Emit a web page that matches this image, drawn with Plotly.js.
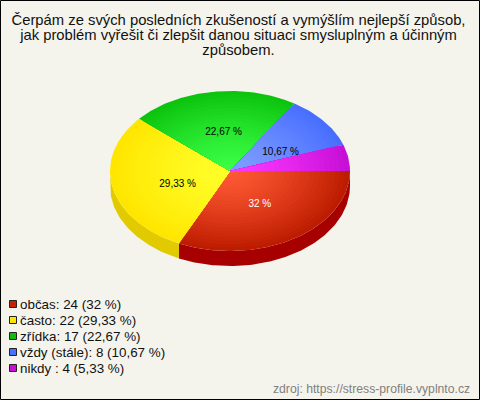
<!DOCTYPE html>
<html>
<head>
<meta charset="utf-8">
<script src="https://cdn.plot.ly/plotly-3.0.1.min.js"></script>
<style>html,body{margin:0;padding:0;background:#f5f4ec}#c{width:480px;height:400px}</style>
</head>
<body>
<div id="c"></div>
<script>
const titleText = 'Čerpám ze svých posledních zkušeností a vymýšlím nejlepší způsob,<br>jak problém vyřešit či zlepšit danou situaci smysluplným a účinným<br>způsobem.';
const categories = ['občas', 'často', 'zřídka', 'vždy (stále)', 'nikdy '];
const counts = [24, 22, 17, 8, 4];
const percentLabels = ['32 %', '29,33 %', '22,67 %', '10,67 %', '5,33 %'];
const showSliceLabel = [true, true, true, true, false];
const labelColors = ['#ffffff', '#000000', '#000000', '#000000', '#000000'];
const innerColors = [[255, 90, 53], [255, 255, 42], [60, 255, 70], [127, 159, 255], [255, 56, 255]];
const outerColors = [[190, 28, 0], [255, 230, 0], [12, 196, 14], [72, 110, 255], [198, 16, 214]];
const sideColors = ['#a60000', '#e2ca00', '#0a9a0a', '#3050c0', '#9a10a8'];
const swatchColors = ['#c42200', '#ffe600', '#10bb10', '#4a70ff', '#c810d8'];
const sourceText = 'zdroj: https://stress-profile.vyplnto.cz';

const W = 480, H = 400, cx = 230, cy = 171, rx = 120, ry = 80, depth = 15 / 80;
const LAYERS = 24;
const total = counts.reduce((a, b) => a + b, 0);
const rad = d => d * Math.PI / 180;

function arc(a0, a1, r, dy) {
  const xs = [], ys = [];
  const n = Math.max(2, Math.ceil((a1 - a0)));
  for (let i = 0; i <= n; i++) {
    const a = rad(a0 + (a1 - a0) * i / n);
    xs.push(r * Math.cos(a));
    ys.push(-r * Math.sin(a) - dy);
  }
  return [xs, ys];
}
const poly = (x, y, color) => ({
  type: 'scatter', mode: 'lines', x, y, fill: 'toself', fillcolor: color,
  line: {width: 0}, hoverinfo: 'skip', showlegend: false
});

const traces = [];
let start = 0;
const spans = counts.map(c => { const s = [start, start + c / total * 360]; start = s[1]; return s; });

// side wall (front half of the disc)
spans.forEach((s, i) => {
  const a0 = s[0], a1 = Math.min(s[1], 180);
  if (a0 >= 180) return;
  const [tx, ty] = arc(a0, a1, 1, 0);
  const [bx, by] = arc(a0, a1, 1, depth);
  traces.push(poly(tx.concat(bx.reverse()), ty.concat(by.reverse()), sideColors[i]));
});
// top face: radial shading built from nested wedges
spans.forEach((s, i) => {
  for (let k = 0; k < LAYERS; k++) {
    const r = 1 - k / LAYERS, t = Math.pow(r, 1.3);
    const c = innerColors[i].map((v, j) => Math.round(v + (outerColors[i][j] - v) * t));
    const [ax, ay] = arc(s[0], s[1], r, 0);
    traces.push(poly([0].concat(ax, 0), [0].concat(ay, 0), `rgb(${c.join(',')})`));
  }
});
// slice labels: on the slice bisector, with small pixel nudges
const labelR = 0.48;
const labelNudgePx = [[-1, 1], [4, 5.5], [2, -0.5], [5.5, 5], [0, 0]];
spans.forEach((s, i) => {
  if (!showSliceLabel[i]) return;
  const m = rad((s[0] + s[1]) / 2);
  traces.push({
    type: 'scatter', mode: 'text',
    x: [labelR * Math.cos(m) + labelNudgePx[i][0] / rx],
    y: [-labelR * Math.sin(m) - labelNudgePx[i][1] / ry],
    text: [percentLabels[i]], textposition: 'middle center',
    textfont: {family: 'Liberation Sans, Arial, sans-serif', size: 10, color: labelColors[i]},
    hoverinfo: 'skip', showlegend: false, cliponaxis: false
  });
});

const annotations = [], shapes = [];
const LEG_Y0 = 304, LEG_STEP = 16;
categories.forEach((c, i) => {
  const y = LEG_Y0 + i * LEG_STEP;
  shapes.push({type: 'rect', xref: 'paper', yref: 'paper',
    x0: 9.5 / W, x1: 16.5 / W, y0: 1 - (y + 3.5) / H, y1: 1 - (y - 3.5) / H,
    fillcolor: swatchColors[i], line: {color: '#222222', width: 1}});
  annotations.push({xref: 'paper', yref: 'paper', x: 20 / W, y: 1 - y / H,
    xanchor: 'left', yanchor: 'middle', showarrow: false, align: 'left',
    borderpad: 0, borderwidth: 0,
    text: `${c}: ${counts[i]} (${percentLabels[i]})`,
    font: {family: 'Liberation Sans, Arial, sans-serif', size: 13.4, color: '#111111'}});
});
annotations.push({xref: 'paper', yref: 'paper', x: 472 / W, y: 1 - 389 / H,
  xanchor: 'right', yanchor: 'middle', showarrow: false, text: sourceText,
  font: {family: 'Liberation Sans, Arial, sans-serif', size: 12.2, color: '#808080'}});
shapes.push({type: 'rect', xref: 'paper', yref: 'paper', x0: 0.5 / W, x1: (W - 0.5) / W,
  y0: 0.5 / H, y1: 1 - 0.5 / H, line: {color: '#000000', width: 1}, fillcolor: 'rgba(0,0,0,0)'});

const hiddenAxis = {visible: false, showgrid: false, zeroline: false, fixedrange: true};
const layout = {
  width: W, height: H, margin: {l: 0, r: 0, t: 0, b: 0},
  paper_bgcolor: '#f5f4ec', plot_bgcolor: '#f5f4ec', showlegend: false,
  title: {text: titleText, x: 238.5 / W, xanchor: 'center', y: 1 - 25 / H, yanchor: 'top',
    font: {family: 'Liberation Sans, Arial, sans-serif', size: 14.8, color: '#111111'}},
  xaxis: Object.assign({range: [-cx / rx, (W - cx) / rx]}, hiddenAxis),
  yaxis: Object.assign({range: [-(H - cy) / ry, cy / ry]}, hiddenAxis),
  annotations, shapes
};
Plotly.newPlot('c', traces, layout, {displayModeBar: false, staticPlot: true}).then(gd => {
  gd.querySelectorAll('.gtitle tspan.line').forEach((t, i) => t.setAttribute('dy', (i * 1.02) + 'em'));
});
</script>
</body>
</html>
